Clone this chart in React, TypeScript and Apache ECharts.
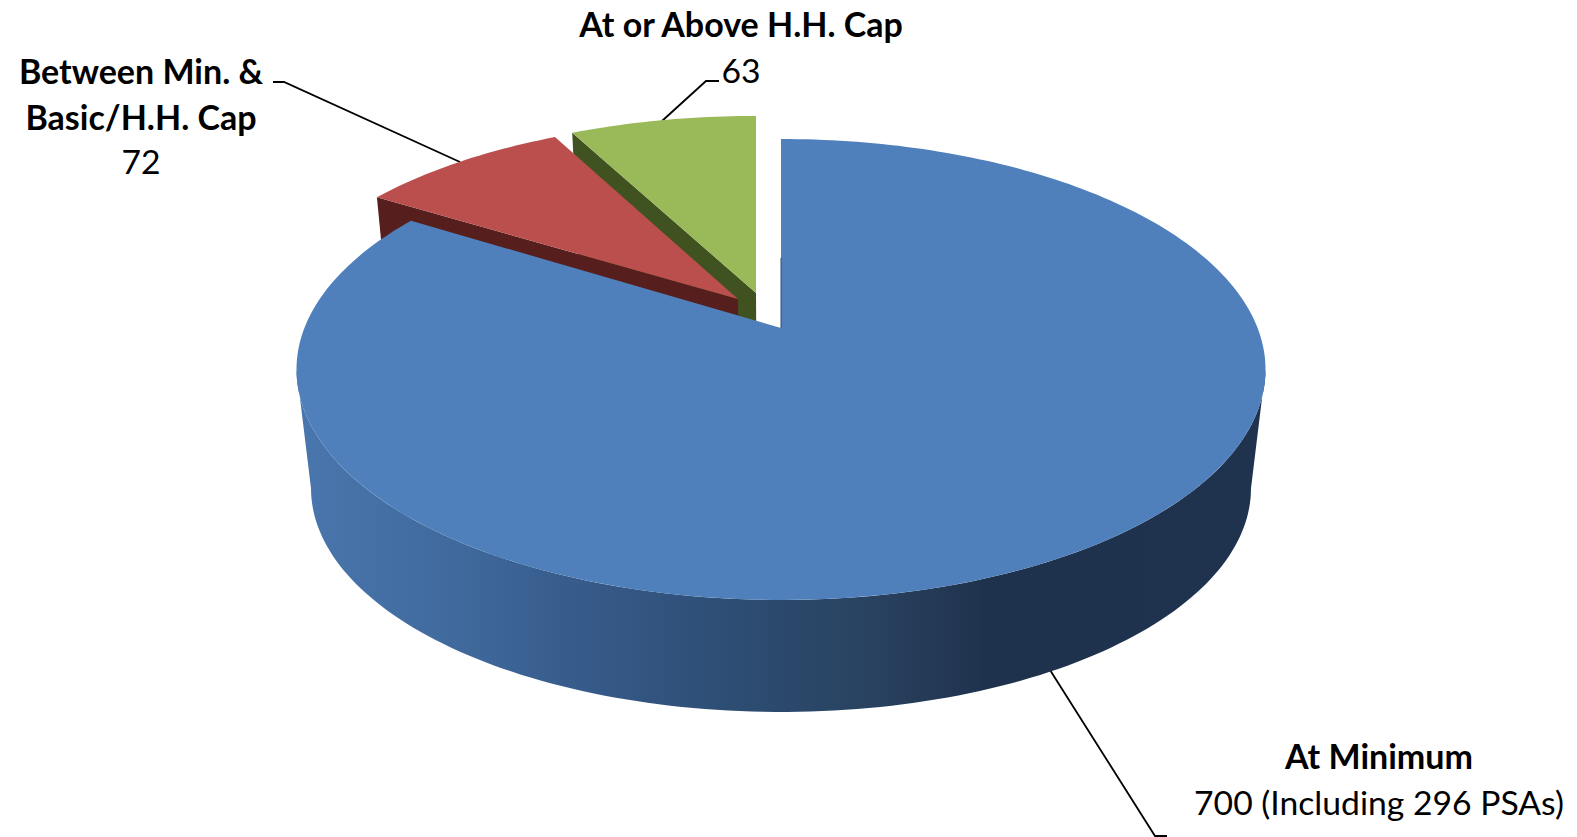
import React, { useEffect, useRef } from "react";
import * as echarts from "echarts";

const categories = ["At Minimum", "Between Min. & Basic/H.H. Cap", "At or Above H.H. Cap"];
const values = [700, 72, 63];
const valueLabels = ["700 (Including 296 PSAs)", "72", "63"];

const topColors = ["#4f80bc", "#bb4f4d", "#9aba59"];
const cutColors = ["#1f334e", "#561f1d", "#3f5220"];

// Perspective model of the pie's disc
const CX = 781;
const CY = 328;
const RX = 476.6;
const RY = 223;
const K = 0.18;
const DEPTH = 112;
const FRONT_Y = 600;
const TAPER = 0.03;
const FONT = "Lato, Carlito, Calibri, sans-serif";
const TEXT_COLOR = "#000";
const BOLD_SIZE = 34;
const NORMAL_SIZE = 33.7;

// Exploded pieces: apex position and shrink of each piece
const placement = [
  { ax: CX, ay: CY, sx: 1, sy: 1 },
  { ax: 738, ay: 299, sx: 0.976, sy: 0.947 },
  { ax: 756, ay: 293, sx: 0.98, sy: 0.937 },
];

const total = values.reduce((a, b) => a + b, 0);
const seriesData = values
  .map((v, i) => ({
    value: [v, values.slice(0, i).reduce((a, b) => a + b, 0), i],
    name: categories[i],
  }))
  .reverse();

type Pt = [number, number];

function project(deg: number): Pt {
  const r = (deg * Math.PI) / 180;
  const u = Math.sin(r);
  const v = Math.cos(r);
  const w = 1 + K * v;
  return [(RX * u) / w, (-RY * v) / w];
}

function place(deg: number | null, i: number): Pt {
  const p = placement[i];
  if (deg === null) return [p.ax, p.ay];
  const q = project(deg);
  return [p.ax + q[0] * p.sx, p.ay + q[1] * p.sy];
}

function lower(pt: Pt): Pt {
  return [CX + (pt[0] - CX) * (1 - TAPER), pt[1] + DEPTH + (FRONT_Y - pt[1]) * TAPER];
}

function arc(a0: number, a1: number, i: number): Pt[] {
  const n = Math.max(2, Math.ceil(Math.abs(a1 - a0) / 1.2));
  const out: Pt[] = [];
  for (let s = 0; s <= n; s++) out.push(place(a0 + ((a1 - a0) * s) / n, i));
  return out;
}

function renderSlice(_: any, api: any) {
  const value = api.value(0);
  const start = api.value(1);
  const i = api.value(2);
  const a0 = (start / total) * 360;
  const a1 = ((start + value) / total) * 360;
  const children: any[] = [];
  if (i === 0) {
    const limit = (Math.acos(-K) * 180) / Math.PI;
    const from = Math.max(a0, limit);
    const to = Math.min(a1, 360 - limit);
    const topEdge = arc(from, to, i);
    const lowEdge = topEdge.map(lower).reverse();
    children.push({
      type: "polygon",
      shape: { points: [...topEdge, ...lowEdge] },
      style: {
        fill: new echarts.graphic.LinearGradient(
          297,
          0,
          1266,
          0,
          [
            { offset: 0, color: "#4976ad" },
            { offset: 0.15, color: "#416b9f" },
            { offset: 0.3, color: "#365a89" },
            { offset: 0.45, color: "#2d4d73" },
            { offset: 0.6, color: "#28415f" },
            { offset: 0.71, color: "#1f324d" },
            { offset: 1, color: "#1f334e" },
          ],
          true
        ),
      },
    });
  } else {
    const rim = place(a0, i);
    const apex = place(null, i);
    children.push({
      type: "polygon",
      shape: { points: [rim, apex, lower(apex), lower(rim)] },
      style: { fill: cutColors[i] },
    });
  }
  children.push({
    type: "polygon",
    shape: { points: [place(null, i), ...arc(a0, a1, i)] },
    style: { fill: topColors[i] },
  });
  if (i === 0) {
    const apex = place(null, i);
    children.push({
      type: "line",
      shape: { x1: apex[0], y1: apex[1], x2: apex[0], y2: apex[1] - 70 },
      style: { stroke: "#2d4a70", lineWidth: 1 },
    });
  }
  return { type: "group", children };
}

function label(text: string, x: number, y: number, bold: boolean) {
  return {
    type: "text",
    x,
    y,
    silent: true,
    style: {
      text,
      fill: TEXT_COLOR,
      font: `${bold ? 700 : 400} ${bold ? BOLD_SIZE : NORMAL_SIZE}px ${FONT}`,
      textAlign: "center",
      textVerticalAlign: "middle",
    },
  };
}

function leader(points: Pt[]) {
  return {
    type: "polyline",
    silent: true,
    shape: { points },
    style: { stroke: "#000", lineWidth: 1.8, fill: "none" },
  };
}

export default function App() {
  const ref = useRef<HTMLDivElement>(null);
  useEffect(() => {
    document.body.style.margin = "0";
    const chart = echarts.init(ref.current!, null, { renderer: "svg" });
    const [line1, line2] = ["Between Min. &", "Basic/H.H. Cap"];
    chart.setOption({
      animation: false,
      backgroundColor: "#fff",
      series: [
        {
          type: "custom",
          coordinateSystem: "none",
          silent: true,
          clip: false,
          renderItem: renderSlice,
          data: seriesData,
        },
      ],
      graphic: [
        leader([[273, 82], [284, 82], [460, 162]]),
        leader([[719, 81], [706, 81], [662, 121]]),
        leader([[1050, 670], [1155, 836], [1167, 836]]),
        label(categories[2], 741, 23, true),
        label(valueLabels[2], 741, 70, false),
        label(line1, 141, 70, true),
        label(line2, 141, 116, true),
        label(valueLabels[1], 141, 161, false),
        label(categories[0], 1379, 755, true),
        label(valueLabels[0], 1379, 802, false),
      ],
    });
    return () => chart.dispose();
  }, []);
  return <div ref={ref} style={{ width: 1577, height: 837 }} />;
}
